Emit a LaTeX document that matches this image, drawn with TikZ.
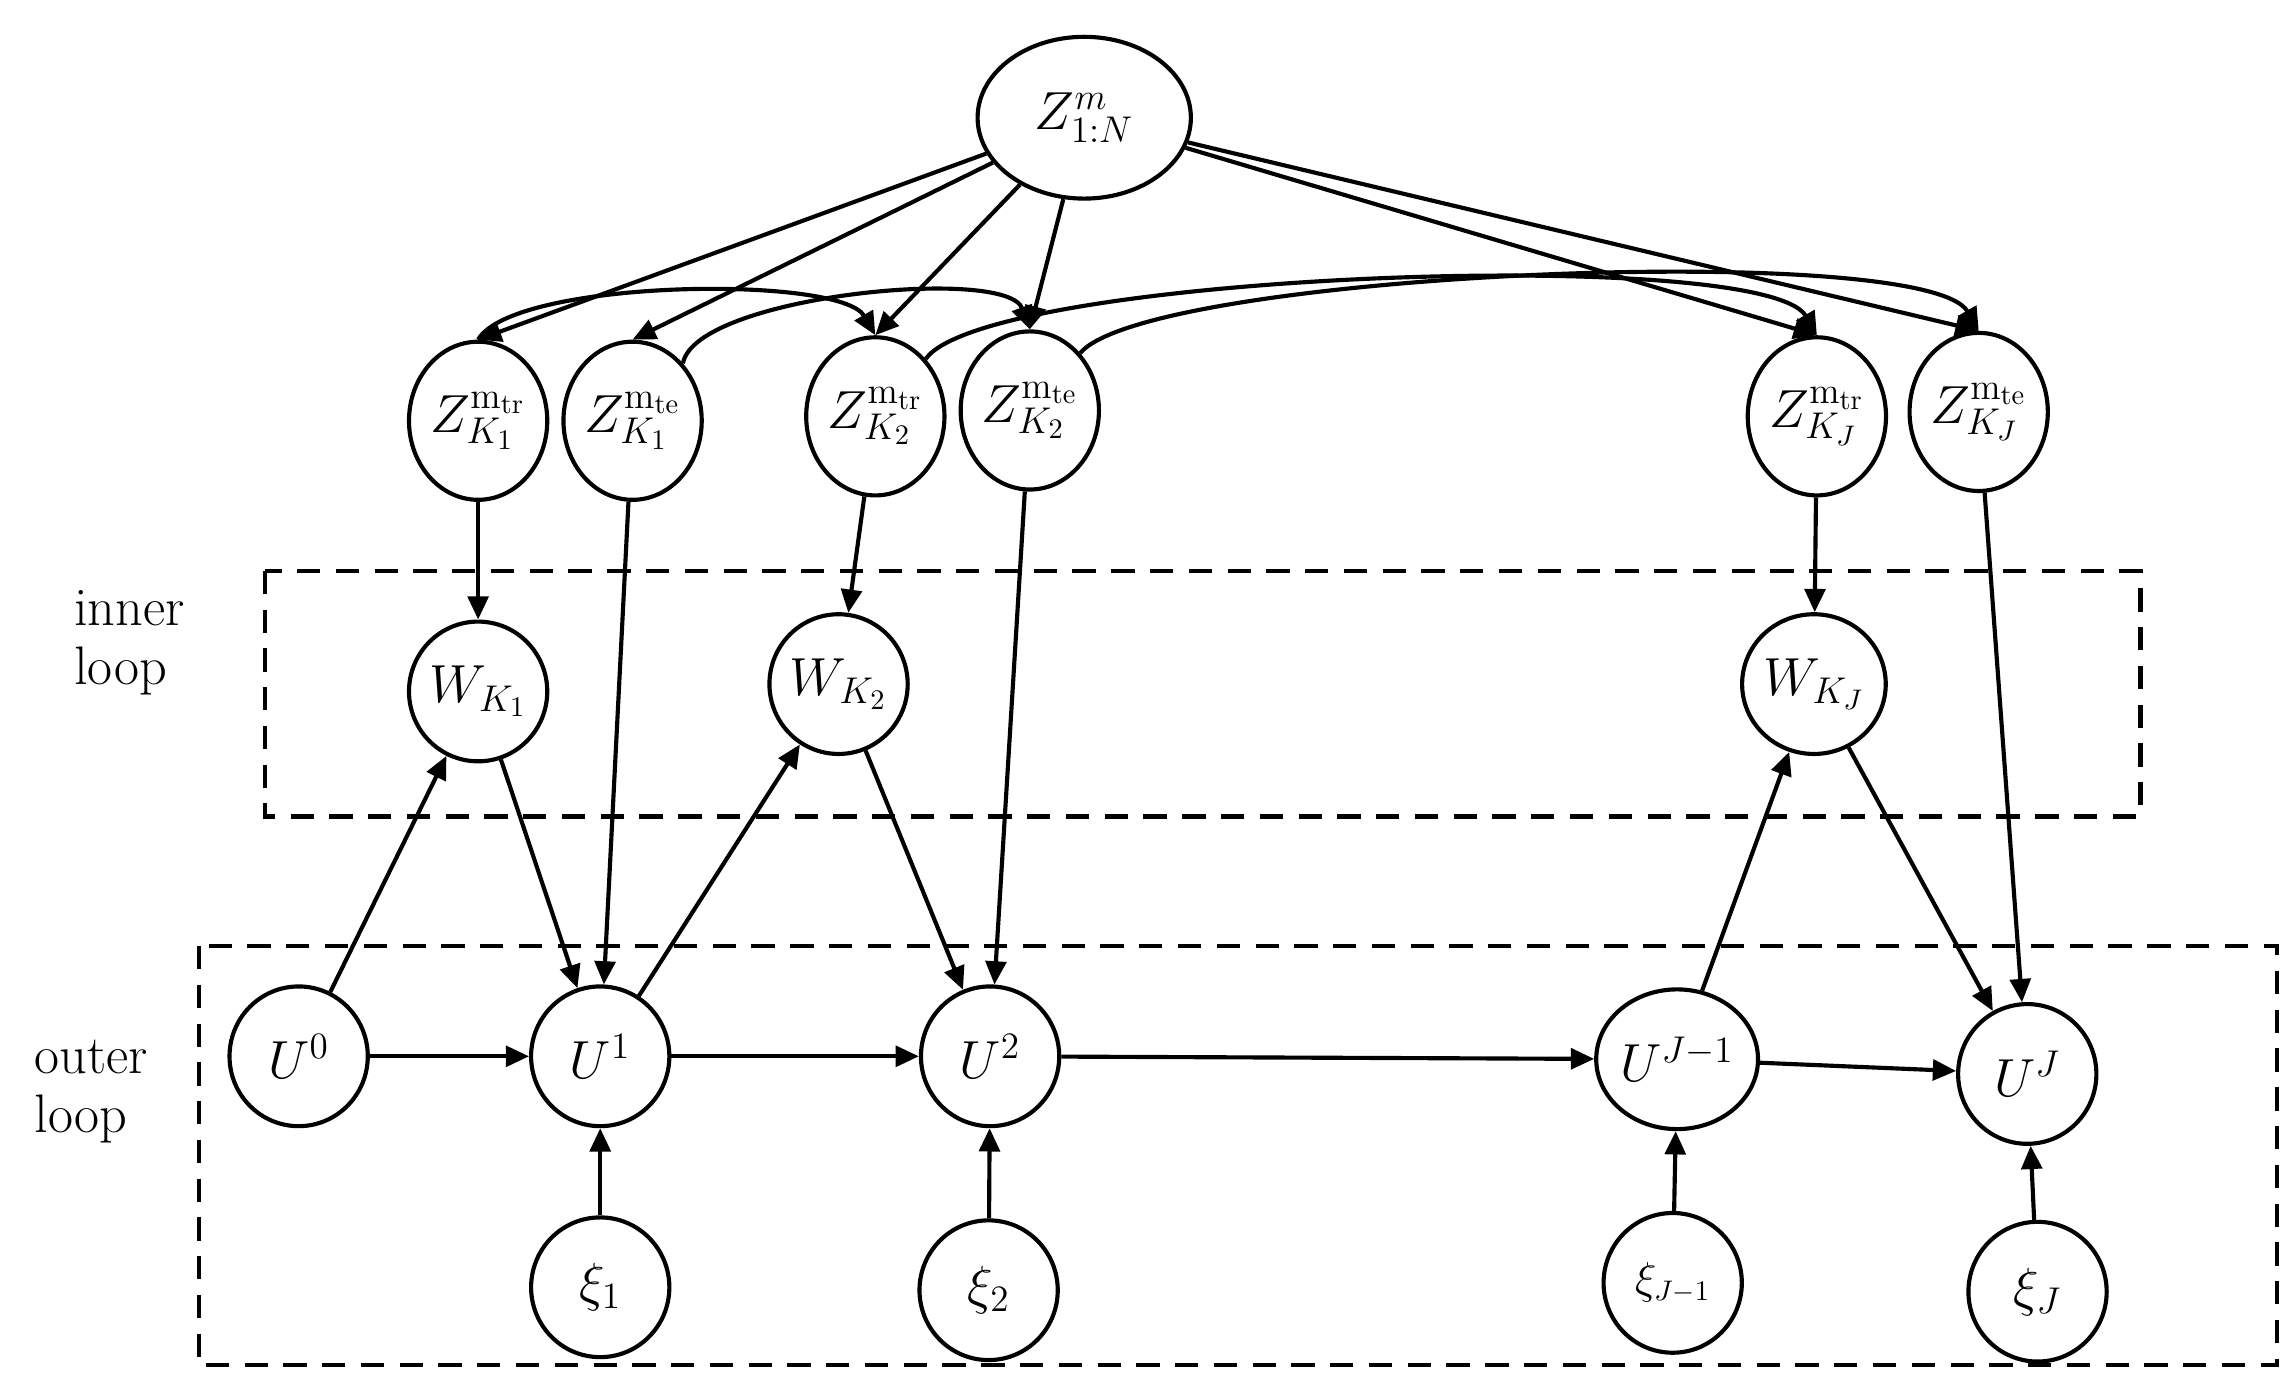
\documentclass[tikz,border=0pt]{standalone}
\usepackage{tikz}
\usetikzlibrary{arrows, arrows.meta, shapes.geometric}

\tikzset{
    var/.style={draw, ellipse, line width=1.6pt, inner sep=0pt, minimum width=1.88cm, minimum height=1.9cm, font=\fontsize{22}{26}\selectfont},
    edge/.style={line width=1.6pt, -{Triangle[length=9pt,width=8pt]}},
    loopbox/.style={line width=1.6pt, dash pattern=on 9pt off 6pt}
}

\begin{document}
\begin{tikzpicture}[x=0.02cm, y=-0.02cm]
\useasboundingbox (0,0) rectangle (1560,948);

\draw[loopbox] (180,388) rectangle (1455,555);
\draw[loopbox] (135,643) rectangle (1548,928);
\node[align=left, font=\fontsize{21}{23}\selectfont] (innerlbl) at (88,437) {inner\\loop};
\node[align=left, font=\fontsize{21}{23}\selectfont] (outerlbl) at (62,742) {outer\\loop};

\node[var, minimum width=2.9cm, minimum height=2.2cm] (Z) at (737,80) {$Z^m_{1:N}$};

\node[var, minimum height=2.15cm] (ZK1tr) at (325,286) {$Z^{\mathrm{m_{tr}}}_{K_1}$};
\node[var, minimum height=2.15cm] (ZK1te) at (430,286) {$Z^{\mathrm{m_{te}}}_{K_1}$};
\node[var, minimum height=2.15cm] (ZK2tr) at (595,283) {$Z^{\mathrm{m_{tr}}}_{K_2}$};
\node[var, minimum height=2.15cm] (ZK2te) at (700,279) {$Z^{\mathrm{m_{te}}}_{K_2}$};
\node[var, minimum height=2.15cm] (ZKJtr) at (1235,283) {$Z^{\mathrm{m_{tr}}}_{K_J}$};
\node[var, minimum height=2.15cm] (ZKJte) at (1345,280) {$Z^{\mathrm{m_{te}}}_{K_J}$};

\node[var] (WK1) at (325,470) {$W_{K_1}$};
\node[var] (WK2) at (570,465) {$W_{K_2}$};
\node[var] (WKJ) at (1233,465) {$W_{K_J}$};

\node[var] (U0) at (203,718) {$U^0$};
\node[var] (U1) at (408,718) {$U^1$};
\node[var] (U2) at (673,718) {$U^2$};
\node[var, minimum width=2.2cm] (UJm) at (1140,720) {$U^{J-1}$};
\node[var] (UJ) at (1378,730) {$U^J$};

\node[var] (xi1) at (408,875) {$\xi_1$};
\node[var] (xi2) at (672,877) {$\xi_2$};
\node[var, font=\fontsize{16}{19}\selectfont] (xiJm) at (1137,872) {$\xi_{J-1}$};
\node[var] (xiJ) at (1385,878) {$\xi_J$};

\foreach \t in {ZK1tr, ZK1te, ZK2tr, ZK2te, ZKJtr, ZKJte}
    \draw[edge] (Z) -- (\t.north);

\draw[edge] (ZK1tr.north) to[out=60, in=120, looseness=0.45] (ZK2tr.north);
\draw[edge] (ZK1te.north east) to[out=80, in=110, looseness=0.5] (ZK2te.north);
\draw[edge] (ZK2tr.north east) to[out=55, in=120, looseness=0.3] (ZKJtr.north);
\draw[edge] (ZK2te.north east) to[out=50, in=120, looseness=0.3] (ZKJte.north);

\draw[edge] (ZK1tr) -- (WK1);
\draw[edge] (ZK1te) -- (U1);
\draw[edge] (ZK2tr) -- (WK2);
\draw[edge] (ZK2te) -- (U2);
\draw[edge] (ZKJtr) -- (WKJ);
\draw[edge] (ZKJte) -- (UJ);

\draw[edge] (U0) -- (WK1);
\draw[edge] (WK1) -- (U1);
\draw[edge] (U1) -- (WK2);
\draw[edge] (WK2) -- (U2);
\draw[edge] (UJm) -- (WKJ);
\draw[edge] (WKJ) -- (UJ);

\draw[edge] (U0) -- (U1);
\draw[edge] (U1) -- (U2);
\draw[edge] (U2) -- (UJm);
\draw[edge] (UJm) -- (UJ);

\draw[edge] (xi1) -- (U1);
\draw[edge] (xi2) -- (U2);
\draw[edge] (xiJm) -- (UJm);
\draw[edge] (xiJ) -- (UJ);

\end{tikzpicture}
\end{document}
